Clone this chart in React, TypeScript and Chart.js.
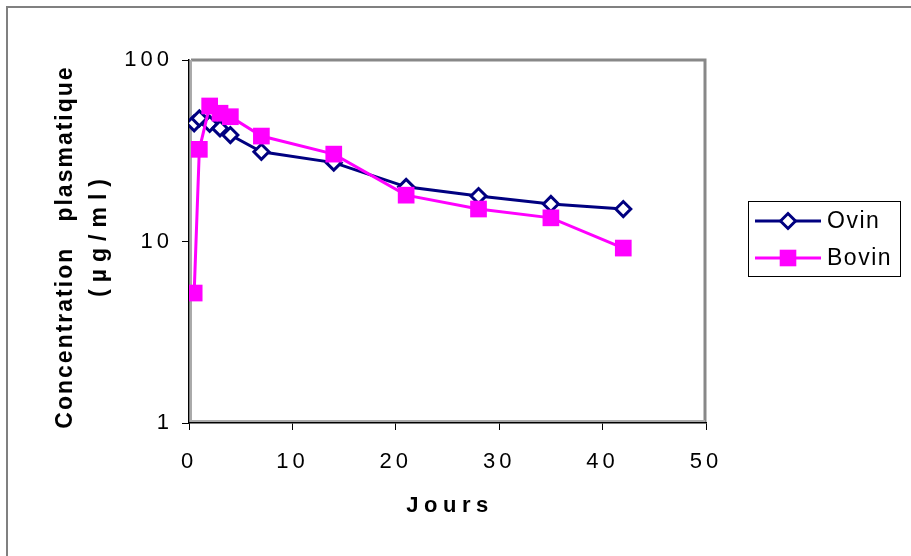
import React, { useEffect, useRef } from 'react';
import { Chart, registerables } from 'chart.js';

Chart.register(...registerables);

// ---- data ----
const days = [0.5, 1, 2, 3, 4, 7, 14, 21, 28, 35, 42];
const ovinValues = [44.8, 47.7, 44.5, 42, 38.6, 31.2, 27.2, 20, 17.8, 16.1, 15.1];
const bovinValues = [5.2, 32.2, 55.8, 50.9, 48.7, 38.1, 30.3, 18.0, 15.1, 13.5, 9.2];
const seriesNames = ['Ovin', 'Bovin'];
const xTickValues = [0, 10, 20, 30, 40, 50];
const yTickValues = [1, 10, 100];
const xTitle = 'Jours';
const yTitleLines = ['Concentration   plasmatique', '(µg/ml)'];

const NAVY = '#000080';
const MAGENTA = '#FF00FF';
const FONT = '"Liberation Sans", Arial, sans-serif';

const decorPlugin = {
  id: 'decor',
  beforeUpdate(chart: any) {
    chart.ctx.letterSpacing = '4px';
  },
  beforeDraw(chart: any) {
    const ctx = chart.ctx;
    ctx.save();
    ctx.fillStyle = '#ffffff';
    ctx.fillRect(0, 0, chart.width, chart.height);
    ctx.restore();
    ctx.letterSpacing = '4px';
  },
  beforeDatasetsDraw(chart: any) {
    const { ctx, chartArea: a } = chart;
    ctx.save();
    ctx.strokeStyle = '#888888';
    ctx.lineWidth = 3;
    ctx.beginPath();
    ctx.moveTo(a.left + 2, a.top);
    ctx.lineTo(a.right - 1, a.top);
    ctx.lineTo(a.right - 1, a.bottom - 1);
    ctx.stroke();
    ctx.strokeStyle = '#aaaaaa';
    ctx.lineWidth = 2;
    ctx.beginPath();
    ctx.moveTo(a.left + 2, a.top);
    ctx.lineTo(a.left + 2, a.bottom - 2);
    ctx.lineTo(a.right - 1, a.bottom - 2);
    ctx.stroke();
    ctx.restore();
  },
  afterDraw(chart: any) {
    const ctx = chart.ctx;
    ctx.save();
    // outer frame
    ctx.strokeStyle = '#808080';
    ctx.lineWidth = 2;
    ctx.beginPath();
    ctx.moveTo(7, chart.height);
    ctx.lineTo(7, 7);
    ctx.lineTo(chart.width, 7);
    ctx.stroke();

    // y title
    ctx.fillStyle = '#000';
    ctx.font = `bold 23px ${FONT}`;
    ctx.textAlign = 'center';
    ctx.textBaseline = 'middle';
    ctx.save();
    ctx.translate(66, 248);
    ctx.rotate(-Math.PI / 2);
    ctx.letterSpacing = '2px';
    ctx.fillText(yTitleLines[0], 1, 0);
    ctx.restore();
    ctx.save();
    ctx.translate(100, 238);
    ctx.rotate(-Math.PI / 2);
    ctx.letterSpacing = '7px';
    ctx.fillText(yTitleLines[1], 3.5, 0);
    ctx.restore();

    // x title
    ctx.save();
    ctx.font = `bold 22px ${FONT}`;
    ctx.letterSpacing = '5.5px';
    ctx.textAlign = 'center';
    ctx.textBaseline = 'middle';
    ctx.fillText(xTitle, 450, 506);
    ctx.restore();

    // legend
    ctx.save();
    ctx.strokeStyle = '#000';
    ctx.lineWidth = 1;
    ctx.strokeRect(748.5, 201.5, 152, 75);
    const rows = [
      { y: 221, name: seriesNames[0], color: NAVY, diamond: true },
      { y: 258, name: seriesNames[1], color: MAGENTA, diamond: false },
    ];
    for (const r of rows) {
      ctx.strokeStyle = r.color;
      ctx.lineWidth = 3;
      ctx.beginPath();
      ctx.moveTo(755, r.y);
      ctx.lineTo(821, r.y);
      ctx.stroke();
      if (r.diamond) {
        ctx.beginPath();
        ctx.moveTo(788 - 7.5, r.y);
        ctx.lineTo(788, r.y - 7.5);
        ctx.lineTo(788 + 7.5, r.y);
        ctx.lineTo(788, r.y + 7.5);
        ctx.closePath();
        ctx.fillStyle = '#fff';
        ctx.fill();
        ctx.stroke();
      } else {
        ctx.fillStyle = r.color;
        ctx.fillRect(788 - 8.3, r.y - 8.3, 16.6, 16.6);
      }
      ctx.fillStyle = '#000';
      ctx.font = `23px ${FONT}`;
      ctx.letterSpacing = '1.5px';
      ctx.textAlign = 'left';
      ctx.textBaseline = 'middle';
      ctx.fillText(r.name, 827, r.y + 1);
    }
    ctx.restore();
    ctx.restore();
  },
};

export default function App() {
  const ref = useRef<HTMLCanvasElement>(null);
  useEffect(() => {
    const ovinData = days.map((d, i) => ({ x: d, y: ovinValues[i] }));
    const bovinData = days.map((d, i) => ({ x: d, y: bovinValues[i] }));
    const chart = new Chart(ref.current as HTMLCanvasElement, {
      type: 'line',
      data: {
        datasets: [
          {
            label: seriesNames[0],
            data: ovinData,
            borderColor: NAVY,
            borderWidth: 3,
            pointStyle: 'rectRot',
            pointRadius: 7.5,
            pointBackgroundColor: '#ffffff',
            pointBorderColor: NAVY,
            pointBorderWidth: 3,
            tension: 0,
            order: 1,
          },
          {
            label: seriesNames[1],
            data: bovinData,
            borderColor: MAGENTA,
            borderWidth: 3,
            pointStyle: 'rect',
            pointRadius: 11.8,
            pointBackgroundColor: MAGENTA,
            pointBorderColor: MAGENTA,
            pointBorderWidth: 0,
            tension: 0,
            order: 0,
          },
        ],
      },
      options: {
        animation: false,
        responsive: false,
        devicePixelRatio: 1,
        layout: { padding: { left: 0, top: 60, right: 205, bottom: 0 } },
        plugins: { legend: { display: false }, tooltip: { enabled: false } },
        scales: {
          x: {
            type: 'linear',
            min: 0,
            max: 50,
            afterFit: (s: any) => { s.height = 133; },
            afterBuildTicks: (s: any) => { s.ticks = xTickValues.map((v) => ({ value: v })); },
            ticks: {
              color: '#000',
              font: { family: FONT, size: 22 },
              padding: 19,
              maxRotation: 0,
              callback: (v: any) => String(v),
            },
            grid: { drawOnChartArea: false, drawTicks: true, tickLength: 7, color: '#000', lineWidth: 1 },
            border: { display: true, color: '#000', width: 1.5 },
          },
          y: {
            type: 'logarithmic',
            min: 1,
            max: 100,
            afterFit: (s: any) => { s.width = 189; },
            afterBuildTicks: (s: any) => { s.ticks = yTickValues.map((v) => ({ value: v })); },
            ticks: {
              color: '#000',
              font: { family: FONT, size: 22 },
              padding: 9,
              callback: (v: any) => String(v),
            },
            grid: { drawOnChartArea: false, drawTicks: true, tickLength: 7, color: '#000', lineWidth: 1 },
            border: { display: true, color: '#000', width: 1.5 },
          },
        },
      },
      plugins: [decorPlugin],
    } as any);
    return () => chart.destroy();
  }, []);
  return (
    <div style={{ position: 'absolute', left: 0, top: 0, width: 911, height: 556, background: '#fff' }}>
      <canvas ref={ref} width={911} height={556} style={{ display: 'block', width: 911, height: 556 }} />
    </div>
  );
}
